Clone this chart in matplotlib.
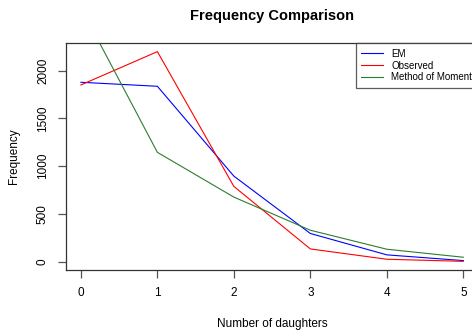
import numpy as np
import matplotlib.pyplot as plt

plt.rcParams['font.family'] = ['Liberation Sans', 'DejaVu Sans']

daughters = [0, 1, 2, 3, 4, 5]
em = [1878, 1836, 895, 294, 70, 10]
observed = [1850, 2199, 787, 132, 24, 2]
mom = [2660, 1144, 675, 328, 129, 45]
xticks = [0, 1, 2, 3, 4, 5]
yticks = [0, 500, 1000, 1500, 2000]


def r_axes(fig):
    # axes box runs past the right edge like the original
    ax = fig.add_axes([0.139, 0.182, 0.875, 0.687])
    for s in ax.spines.values():
        s.set_color('#333333')
        s.set_linewidth(0.9)
    ax.set_xlim(-0.2, 5.2)
    ax.set_ylim(-88, 2287)
    ax.set_xticks(xticks)
    ax.set_yticks(yticks)
    ax.set_yticklabels([str(t) for t in yticks], rotation=90, va='center')
    ax.tick_params(direction='out', length=6, width=0.9, color='#555555',
                   labelsize=8.5, pad=6)
    return ax


fig = plt.figure(figsize=(4.72, 3.30), dpi=100)
ax = r_axes(fig)

ax.plot(daughters, em, color='blue', lw=0.8, label='EM')
ax.plot(daughters, observed, color='red', lw=0.8, label='Observed')
ax.plot(daughters, mom, color='#2e7d2e', lw=0.8, label='Method of Moments')

ax.set_xlabel('Number of daughters', fontsize=8.5, labelpad=14)
ax.set_ylabel('Frequency', fontsize=8.5, labelpad=12)
fig.text(0.576, 0.952, 'Frequency Comparison', ha='center', va='center',
         fontsize=10.5, fontweight='bold')

leg = ax.legend(loc='upper left', bbox_to_anchor=(0.703, 1.0), fontsize=7,
                frameon=True, fancybox=False, borderaxespad=0,
                handlelength=2.2, handletextpad=0.9, labelspacing=0.2,
                borderpad=0.55)
leg.get_frame().set_edgecolor('#333333')
leg.get_frame().set_linewidth(0.9)

plt.savefig('out.png', dpi=100)
